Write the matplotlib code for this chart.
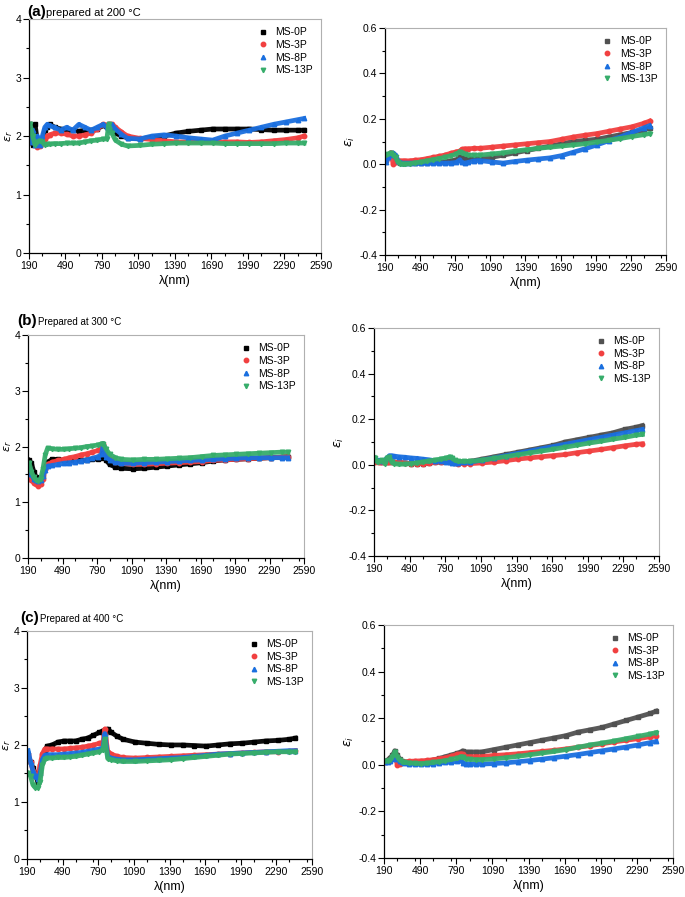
import matplotlib
matplotlib.use('Agg')
import matplotlib.pyplot as plt
from matplotlib.ticker import MultipleLocator

plt.rcParams['font.family'] = ['Liberation Sans', 'DejaVu Sans']
plt.rcParams['mathtext.fontset'] = 'dejavusans'

# wavelength grid (nm) shared by every series
wl = [200, 220, 240, 260, 280, 300, 320, 340, 360, 400, 450, 500, 550, 600, 650, 700, 750,
      800, 830, 845, 870, 900, 950, 1000, 1100, 1200, 1300, 1400, 1500, 1600, 1700, 1800,
      1900, 2000, 2100, 2200, 2300, 2400, 2450]

samples = ['MS-0P', 'MS-3P', 'MS-8P', 'MS-13P']

# (a) 200 C, real part
a_r_0P = [2.2, 1.85, 2.2, 1.9, 1.85, 1.9, 2.1, 2.15, 2.2, 2.15, 2.12, 2.1, 2.1, 2.08, 2.1, 2.1, 2.12,
          2.18, 2.15, 2.2, 2.12, 2.05, 2.0, 1.97, 1.95, 1.98, 2.0, 2.05, 2.08, 2.1, 2.12, 2.12,
          2.12, 2.12, 2.11, 2.1, 2.1, 2.1, 2.1]
a_r_3P = [2.0, 1.9, 1.95, 1.82, 1.83, 1.88, 1.95, 2.0, 2.02, 2.05, 2.05, 2.03, 2.0, 2.0, 2.02, 2.05, 2.12,
          2.2, 2.18, 2.2, 2.2, 2.15, 2.07, 2.0, 1.96, 1.94, 1.92, 1.9, 1.9, 1.9, 1.9, 1.9,
          1.9, 1.89, 1.9, 1.92, 1.94, 1.97, 2.0]
a_r_8P = [1.9, 2.1, 1.85, 2.0, 1.85, 2.0, 2.15, 2.2, 2.18, 2.15, 2.1, 2.15, 2.1, 2.2, 2.15, 2.1, 2.15,
          2.2, 2.15, 2.1, 2.2, 2.12, 2.03, 1.96, 1.95, 2.0, 2.02, 2.0, 1.97, 1.95, 1.93, 2.0,
          2.05, 2.1, 2.15, 2.2, 2.24, 2.28, 2.3]
a_r_13P = [2.2, 2.0, 1.85, 1.9, 1.92, 1.9, 1.85, 1.86, 1.86, 1.87, 1.87, 1.88, 1.88, 1.88, 1.9, 1.92, 1.93,
           1.95, 1.95, 2.2, 2.05, 1.93, 1.86, 1.83, 1.84, 1.86, 1.87, 1.88, 1.88, 1.88, 1.88, 1.87,
           1.87, 1.87, 1.87, 1.87, 1.88, 1.88, 1.88]

# (a) 200 C, imaginary part
a_i_0P = [0.02, 0.04, 0.05, 0.045, 0.02, 0.01, 0.005, 0.005, 0.005, 0.005, 0.005, 0.005, 0.006, 0.008, 0.009, 0.01, 0.015,
          0.02, 0.03, 0.03, 0.028, 0.025, 0.025, 0.025, 0.03, 0.04, 0.05, 0.06, 0.07, 0.08, 0.09, 0.1,
          0.105, 0.11, 0.12, 0.13, 0.14, 0.15, 0.16]
a_i_3P = [0.02, 0.04, 0.05, 0.0, 0.01, 0.015, 0.015, 0.015, 0.015, 0.015, 0.018, 0.02, 0.025, 0.03, 0.035, 0.04, 0.048,
          0.055, 0.058, 0.065, 0.068, 0.068, 0.07, 0.07, 0.075, 0.08, 0.085, 0.09, 0.095, 0.1, 0.11, 0.12,
          0.128, 0.135, 0.145, 0.155, 0.165, 0.18, 0.19]
a_i_8P = [0.01, 0.03, 0.04, 0.05, 0.04, 0.015, 0.008, 0.005, 0.005, 0.005, 0.005, 0.005, 0.005, 0.005, 0.005, 0.005, 0.005,
          0.008, 0.02, 0.008, 0.005, 0.008, 0.015, 0.016, 0.01, 0.005, 0.012, 0.018, 0.023, 0.028, 0.038, 0.053,
          0.068, 0.085, 0.103, 0.12, 0.14, 0.16, 0.17]
a_i_13P = [0.04, 0.045, 0.05, 0.04, 0.03, 0.01, 0.002, 0.0, 0.0, 0.002, 0.006, 0.01, 0.015, 0.02, 0.025, 0.03, 0.037,
           0.045, 0.055, 0.05, 0.045, 0.04, 0.04, 0.04, 0.045, 0.05, 0.058, 0.064, 0.07, 0.075, 0.08, 0.085,
           0.09, 0.098, 0.105, 0.113, 0.122, 0.13, 0.135]

# (b) 300 C, real part
b_r_0P = [1.75, 1.7, 1.55, 1.45, 1.4, 1.4, 1.48, 1.62, 1.72, 1.77, 1.77, 1.75, 1.75, 1.75, 1.75, 1.76, 1.77,
          1.78, 1.8, 1.92, 1.75, 1.68, 1.63, 1.61, 1.6, 1.61, 1.63, 1.65, 1.67, 1.69, 1.71, 1.74,
          1.76, 1.77, 1.78, 1.79, 1.8, 1.81, 1.82]
b_r_3P = [1.5, 1.4, 1.35, 1.32, 1.3, 1.32, 1.42, 1.6, 1.68, 1.72, 1.75, 1.77, 1.8, 1.82, 1.85, 1.87, 1.9,
          1.93, 1.97, 2.05, 1.85, 1.78, 1.73, 1.7, 1.68, 1.68, 1.69, 1.7, 1.71, 1.72, 1.73, 1.75,
          1.76, 1.77, 1.78, 1.79, 1.8, 1.81, 1.82]
b_r_8P = [1.6, 1.5, 1.42, 1.4, 1.38, 1.4, 1.47, 1.58, 1.65, 1.66, 1.68, 1.7, 1.71, 1.72, 1.74, 1.76, 1.79,
          1.82, 1.86, 2.05, 1.82, 1.76, 1.72, 1.7, 1.7, 1.71, 1.72, 1.73, 1.74, 1.75, 1.76, 1.77,
          1.78, 1.79, 1.8, 1.8, 1.8, 1.8, 1.8]
b_r_13P = [1.7, 1.55, 1.45, 1.4, 1.38, 1.42, 1.6, 1.85, 1.97, 1.96, 1.95, 1.95, 1.96, 1.97, 1.98, 2.0, 2.01,
           2.03, 2.05, 2.05, 1.95, 1.86, 1.8, 1.77, 1.76, 1.77, 1.77, 1.78, 1.79, 1.8, 1.82, 1.84,
           1.85, 1.86, 1.87, 1.88, 1.89, 1.9, 1.9]

# (b) 300 C, imaginary part
b_i_0P = [0.02, 0.015, 0.012, 0.01, 0.01, 0.01, 0.01, 0.01, 0.01, 0.01, 0.008, 0.005, 0.005, 0.005, 0.007, 0.01, 0.012,
          0.015, 0.015, 0.012, 0.01, 0.01, 0.012, 0.015, 0.025, 0.035, 0.045, 0.055, 0.065, 0.075, 0.085, 0.1,
          0.11, 0.12, 0.13, 0.14, 0.155, 0.165, 0.172]
b_i_3P = [0.01, 0.01, 0.01, 0.01, 0.01, 0.01, 0.01, 0.01, 0.01, 0.01, 0.008, 0.005, 0.005, 0.005, 0.007, 0.01, 0.012,
          0.015, 0.013, 0.01, 0.007, 0.005, 0.005, 0.005, 0.008, 0.012, 0.018, 0.025, 0.03, 0.035, 0.04, 0.045,
          0.053, 0.06, 0.067, 0.075, 0.083, 0.09, 0.092]
b_i_8P = [0.025, 0.02, 0.02, 0.015, 0.02, 0.03, 0.04, 0.04, 0.038, 0.035, 0.033, 0.03, 0.028, 0.025, 0.022, 0.018, 0.015,
          0.012, 0.01, 0.008, 0.007, 0.008, 0.01, 0.012, 0.02, 0.03, 0.04, 0.05, 0.06, 0.07, 0.08, 0.09,
          0.1, 0.11, 0.12, 0.13, 0.14, 0.15, 0.155]
b_i_13P = [0.03, 0.01, 0.015, 0.02, 0.005, 0.03, 0.035, 0.01, 0.005, 0.002, 0.003, 0.005, 0.008, 0.012, 0.016, 0.02, 0.025,
           0.03, 0.035, 0.03, 0.02, 0.015, 0.015, 0.015, 0.02, 0.028, 0.036, 0.044, 0.052, 0.06, 0.068, 0.077,
           0.086, 0.095, 0.103, 0.112, 0.12, 0.13, 0.133]

# (c) 400 C, real part
c_r_0P = [1.75, 1.7, 1.6, 1.5, 1.35, 1.5, 1.7, 1.9, 1.98, 2.0, 2.05, 2.07, 2.07, 2.07, 2.1, 2.12, 2.17,
          2.22, 2.25, 2.1, 2.28, 2.22, 2.15, 2.1, 2.05, 2.03, 2.01, 2.0, 2.0, 1.99, 1.98, 2.0,
          2.02, 2.03, 2.05, 2.07, 2.08, 2.1, 2.12]
c_r_3P = [1.85, 1.7, 1.55, 1.45, 1.45, 1.65, 1.85, 1.93, 1.93, 1.93, 1.93, 1.93, 1.94, 1.95, 1.96, 1.98, 2.0,
          2.03, 2.05, 2.28, 1.88, 1.84, 1.8, 1.78, 1.77, 1.78, 1.79, 1.8, 1.81, 1.82, 1.83, 1.84,
          1.85, 1.86, 1.87, 1.88, 1.88, 1.89, 1.9]
c_r_8P = [1.9, 1.7, 1.55, 1.45, 1.4, 1.5, 1.75, 1.82, 1.83, 1.83, 1.83, 1.84, 1.85, 1.86, 1.87, 1.89, 1.91,
          1.93, 1.95, 2.2, 1.8, 1.77, 1.75, 1.74, 1.74, 1.75, 1.76, 1.77, 1.78, 1.8, 1.82, 1.84,
          1.85, 1.86, 1.87, 1.88, 1.89, 1.9, 1.9]
c_r_13P = [1.5, 1.45, 1.3, 1.25, 1.25, 1.35, 1.65, 1.75, 1.77, 1.77, 1.78, 1.78, 1.79, 1.8, 1.82, 1.84, 1.86,
           1.88, 1.92, 2.1, 1.76, 1.74, 1.72, 1.71, 1.71, 1.72, 1.73, 1.74, 1.76, 1.78, 1.8, 1.82,
           1.84, 1.85, 1.86, 1.87, 1.88, 1.88, 1.88]

# (c) 400 C, imaginary part
c_i_0P = [0.015, 0.02, 0.03, 0.04, 0.06, 0.04, 0.025, 0.015, 0.012, 0.01, 0.008, 0.008, 0.012, 0.02, 0.027, 0.035, 0.042,
          0.05, 0.055, 0.06, 0.055, 0.055, 0.055, 0.055, 0.065, 0.075, 0.085, 0.095, 0.105, 0.115, 0.125, 0.14,
          0.15, 0.16, 0.175, 0.19, 0.205, 0.22, 0.23]
c_i_3P = [0.01, 0.015, 0.02, 0.03, 0.04, 0.0, 0.005, 0.01, 0.012, 0.015, 0.016, 0.017, 0.019, 0.022, 0.026, 0.03, 0.037,
          0.045, 0.048, 0.045, 0.035, 0.035, 0.035, 0.035, 0.04, 0.043, 0.047, 0.052, 0.057, 0.062, 0.068, 0.075,
          0.082, 0.09, 0.098, 0.105, 0.112, 0.12, 0.125]
c_i_8P = [0.01, 0.012, 0.015, 0.025, 0.04, 0.025, 0.015, 0.01, 0.008, 0.005, 0.003, 0.002, 0.003, 0.005, 0.008, 0.01, 0.012,
          0.015, 0.02, 0.008, 0.005, 0.004, 0.003, 0.003, 0.005, 0.008, 0.013, 0.018, 0.024, 0.03, 0.037, 0.044,
          0.052, 0.06, 0.068, 0.076, 0.085, 0.095, 0.1]
c_i_13P = [0.015, 0.017, 0.02, 0.035, 0.055, 0.035, 0.02, 0.013, 0.01, 0.008, 0.006, 0.005, 0.007, 0.01, 0.014, 0.018, 0.023,
           0.028, 0.035, 0.032, 0.025, 0.023, 0.022, 0.022, 0.025, 0.03, 0.036, 0.043, 0.05, 0.057, 0.065, 0.075,
           0.085, 0.093, 0.102, 0.112, 0.122, 0.132, 0.138]

xticks = [190, 490, 790, 1090, 1390, 1690, 1990, 2290, 2590]
markers = ['s', 'o', '^', 'v']
colors_r = ['#000000', '#F14040', '#1A6FDF', '#37AD6B']
colors_i = ['#515151', '#F14040', '#1A6FDF', '#37AD6B']

fig = plt.figure(figsize=(6.85, 8.97), dpi=100)

panels = [
    # axes rect, series, real part?, y label x-position (axes fraction)
    ([0.0423, 0.7179, 0.4263, 0.2609], [a_r_0P, a_r_3P, a_r_8P, a_r_13P], True, -0.048),
    ([0.5620, 0.7157, 0.4102, 0.2531], [a_i_0P, a_i_3P, a_i_8P, a_i_13P], False, None),
    ([0.0409, 0.3779, 0.4029, 0.2486], [b_r_0P, b_r_3P, b_r_8P, b_r_13P], True, -0.05),
    ([0.5460, 0.3802, 0.4161, 0.2542], [b_i_0P, b_i_3P, b_i_8P, b_i_13P], False, None),
    ([0.0394, 0.0424, 0.4161, 0.2542], [c_r_0P, c_r_3P, c_r_8P, c_r_13P], True, -0.05),
    ([0.5606, 0.0435, 0.4219, 0.2598], [c_i_0P, c_i_3P, c_i_8P, c_i_13P], False, None),
]

for rect, series, real, ylx in panels:
    ax = fig.add_axes(rect)
    cols = colors_r if real else colors_i
    for vals, lab, m, c in zip(series, samples, markers, cols):
        ax.plot(wl, vals, '-', color=c, lw=3.4, alpha=0.95)
        ax.plot(wl, vals, ls='none', marker=m, ms=3.2, color=c, label=lab)
    ax.set_xlim(190, 2590)
    ax.set_xticks(xticks)
    ax.xaxis.set_minor_locator(MultipleLocator(150))
    if real:
        ax.set_ylim(0, 4)
        ax.yaxis.set_major_locator(MultipleLocator(1))
        ax.yaxis.set_minor_locator(MultipleLocator(0.5))
        ax.set_ylabel(r'$\varepsilon_r$', fontsize=8)
        ax.yaxis.set_label_coords(ylx, 0.5)
    else:
        ax.set_ylim(-0.4, 0.6)
        ax.yaxis.set_major_locator(MultipleLocator(0.2))
        ax.yaxis.set_minor_locator(MultipleLocator(0.1))
        ax.set_yticklabels([f'{v:.1f}' for v in ax.get_yticks()])
        ax.set_ylabel(r'$\varepsilon_i$', fontsize=9, labelpad=2)
    ax.set_xlabel('λ(nm)', fontsize=9, labelpad=3)
    ax.tick_params(which='major', direction='out', length=4, width=0.8, labelsize=7.5, pad=1.5)
    ax.tick_params(which='minor', direction='out', length=2, width=0.8)
    for s in ['top', 'right']:
        ax.spines[s].set_color('#b0b0b0')
    for s in ['left', 'bottom']:
        ax.spines[s].set_linewidth(0.9)
    ax.legend(loc='upper right', frameon=False, fontsize=7.5, handletextpad=0.6,
              labelspacing=0.25, borderaxespad=0.4, handlelength=1.2)

# panel titles
fig.text(27 / 685, 1 - 12 / 897, '(a)', fontsize=11, fontweight='bold', va='center')
fig.text(46 / 685, 1 - 13 / 897, 'prepared at 200 °C', fontsize=8, va='center')
fig.text(17 / 685, 1 - 321 / 897, '(b)', fontsize=11, fontweight='bold', va='center')
fig.text(38 / 685, 1 - 322 / 897, 'Prepared at 300 °C', fontsize=7, va='center')
fig.text(20 / 685, 1 - 618 / 897, '(c)', fontsize=11, fontweight='bold', va='center')
fig.text(40 / 685, 1 - 619 / 897, 'Prepared at 400 °C', fontsize=7, va='center')

fig.savefig('out.png', dpi=100)
